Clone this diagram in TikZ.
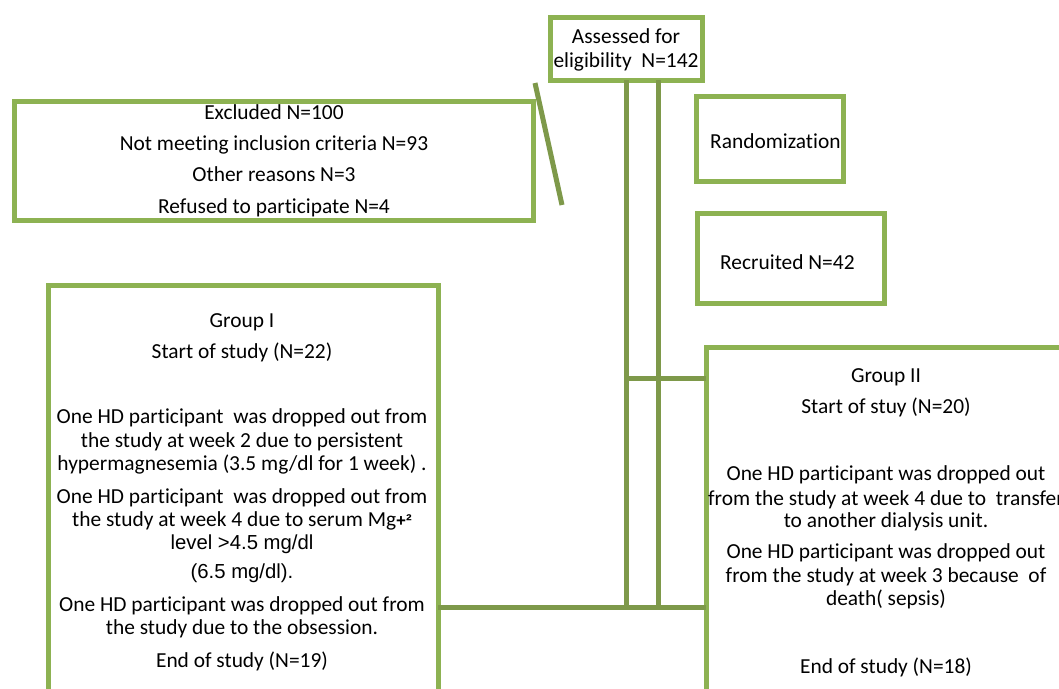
\documentclass[tikz,border=0pt]{standalone}
\usepackage{fontspec}
\setmainfont{Carlito}[Ligatures=NoCommon]
\newfontfamily\arialf{Liberation Sans}
\definecolor{boxgreen}{RGB}{141,178,82}
\definecolor{linegreen}{RGB}{126,153,74}
\begin{document}
\begin{tikzpicture}[x=1pt,y=-1pt,
  box/.style={draw=boxgreen,line width=5pt,rectangle,inner sep=0pt,outer sep=0pt},
  conn/.style={draw=linegreen,line width=5pt},
  txt/.style={anchor=base,inner sep=0pt,font=\fontsize{21.4}{25}\selectfont},
  atxt/.style={anchor=base,inner sep=0pt,font=\arialf\fontsize{20.3}{24}\selectfont},
  ltxt/.style={anchor=base west,inner sep=0pt,font=\fontsize{21.4}{25}\selectfont}]
\useasboundingbox (0,0) rectangle (1059,688);
\clip (0,0) rectangle (1059,688);
\fill[white] (0,0) rectangle (1059,688);
% boxes
\node[box,minimum width=152pt,minimum height=63pt] (assess) at (626,48.5) {};
\node[box,minimum width=519pt,minimum height=119pt] (excl) at (273.5,160.5) {};
\node[box,minimum width=147pt,minimum height=85pt] (rand) at (769.5,138.5) {};
\node[box,minimum width=187pt,minimum height=90pt] (recr) at (790.5,258) {};
\node[box,minimum width=390pt,minimum height=435pt] (g1) at (243,502.5) {};
\node[box,minimum width=394pt,minimum height=373pt] (g2) at (903,533.5) {};
% connectors
\coordinate (c1) at (626,607);
\coordinate (c2) at (658,607);
\coordinate (c3) at (626,378);
\coordinate (d1) at (535,83);
\coordinate (d2) at (562,205);
\draw[conn] (assess.south -| c1) -- (c1);
\draw[conn] (assess.south -| c2) -- (c2);
\draw[conn] (c3) -- (g2.west |- c3);
\draw[conn] (g1.east |- c1) -- (g2.west |- c1);
\draw[conn] (d1) -- (d2);
% texts
\node[txt] (t1) at (626,43) {Assessed for};
\node[txt] (t2) at (626,67) {eligibility\ \ N=142};
\node[txt] (e1) at (274,119) {Excluded N=100};
\node[txt] (e2) at (274,150) {Not meeting inclusion criteria N=93};
\node[txt] (e3) at (274,181) {Other reasons N=3};
\node[txt] (e4) at (274,213) {Refused to participate N=4};
\node[ltxt] (r1) at (710,148) {Randomization};
\node[ltxt] (r2) at (720,269) {Recruited N=42};
% group I
\node[txt] (a1) at (242,327) {Group I};
\node[txt] (a2) at (242,358) {Start of study (N=22)};
\node[txt] (a3) at (242,423) {One HD participant\ \ was dropped out from};
\node[txt] (a4) at (242,447) {the study at week 2 due to persistent};
\node[txt] (a5) at (242,470) {hypermagnesemia (3.5 mg/dl for 1 week) .};
\node[txt] (a6) at (242,503) {One HD participant\ \ was dropped out from};
\node[txt] (a7) at (242,526) {the study at week 4 due to serum Mg{\arialf\bfseries\fontsize{17}{20}\selectfont +²}};
\node[atxt] (a8) at (242,549) {level >4.5 mg/dl};
\node[atxt] (a9) at (242,578) {(6.5 mg/dl).};
\node[txt] (a10) at (242,611) {One HD participant was dropped out from};
\node[txt] (a11) at (242,634) {the study due to the obsession.};
\node[txt] (a12) at (242,667) {End of study (N=19)};
% group II
\node[txt] (b1) at (886,382) {Group II};
\node[txt] (b2) at (886,413) {Start of stuy (N=20)};
\node[txt] (b3) at (886,480) {One HD participant was dropped out};
\node[txt] (b4) at (886,505) {from the study at week 4 due to\ \ transfer};
\node[txt] (b5) at (886,527) {to another dialysis unit.};
\node[txt] (b6) at (886,558) {One HD participant was dropped out};
\node[txt] (b7) at (886,582) {from the study at week 3 because\ \ of};
\node[txt] (b8) at (886,605) {death( sepsis)};
\node[txt] (b9) at (886,673) {End of study (N=18)};
\end{tikzpicture}
\end{document}
